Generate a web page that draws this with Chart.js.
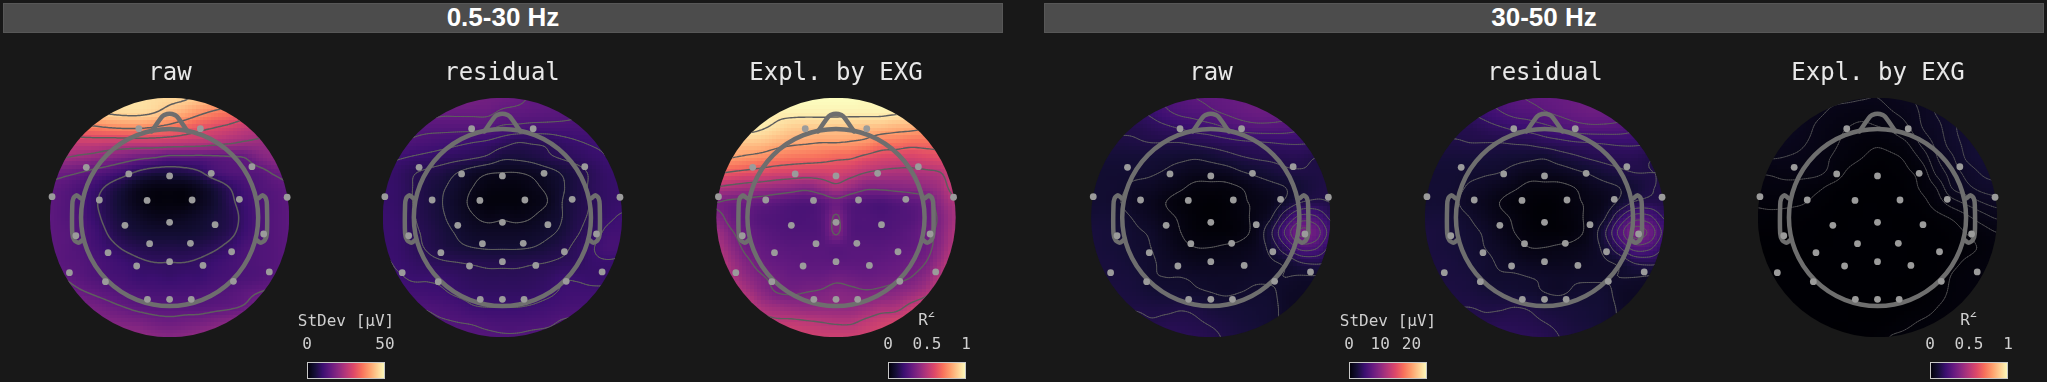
<!DOCTYPE html>
<html>
<head>
<meta charset="utf-8">
<script src="https://cdn.jsdelivr.net/npm/chart.js@4"></script>
<style>
  html, body { margin: 0; background: #181818; width: 2047px; height: 382px; overflow: hidden; }
  canvas { position: absolute; }
  .band { position: absolute; top: 3px; height: 28px; background: #4c4c4c; border: 1px solid #575757; box-sizing: content-box;
          color: #fff; font: bold 26px "Liberation Sans", sans-serif; line-height: 26px; text-align: center; }
</style>
</head>
<body>
<div class="band" style="left:3px;width:998px">0.5-30 Hz</div>
<div class="band" style="left:1044px;width:998px">30-50 Hz</div>
<script>
// sensor positions, head radius = 0.74 of the plotted disc
const sensorX = [-0.257,0.257,-0.696,-0.341,0,0.348,0.688,-0.982,-0.587,-0.188,0.188,0.583,0.982,-0.373,0,0.38,-0.783,0.786,-0.167,0.174,-0.514,0.518,-0.275,0,0.279,-0.837,0.833,-0.536,0.533,-0.185,0,0.181];
const sensorY = [0.742,0.742,0.419,0.364,0.347,0.369,0.425,0.174,0.146,0.143,0.146,0.152,0.169,-0.065,-0.04,-0.06,-0.152,-0.138,-0.219,-0.216,-0.294,-0.286,-0.405,-0.369,-0.4,-0.461,-0.455,-0.536,-0.533,-0.684,-0.684,-0.684];
const noseX = [-0.15,-0.06,-0.02,0.02,0.06,0.15];
const noseY = [0.72,0.845,0.865,0.865,0.845,0.72];
const earX = [0.743,0.776,0.804,0.813,0.813,0.796,0.762,0.726];
const earY = [0.16,0.186,0.16,0.104,-0.132,-0.188,-0.21,-0.188];

// magma colour stops (0, 0.1 ... 1)
const magma = ['#000004','#140e36','#3b0f70','#641a80','#8c2981','#b73779','#de4968','#f7705c','#fe9f6d','#fecf92','#fcfdbf'];

// field values on a 17x17 grid, rows from y=1 down to y=-1, columns x=-1 to x=1
const rawLow = [
 .94,.94,.94,.94,.94,.94,.94,.93,.92,.91,.88,.85,.82,.8,.78,.76,.74,
 .9,.9,.9,.9,.91,.92,.92,.9,.86,.82,.77,.73,.7,.66,.62,.6,.58,
 .72,.72,.72,.73,.75,.76,.76,.74,.71,.67,.63,.6,.57,.53,.5,.47,.45,
 .55,.55,.54,.54,.53,.53,.53,.53,.52,.51,.5,.48,.46,.44,.43,.42,.42,
 .46,.45,.43,.41,.38,.35,.32,.3,.27,.27,.27,.28,.29,.3,.36,.4,.4,
 .33,.32,.3,.27,.24,.2,.15,.12,.12,.13,.16,.22,.25,.26,.27,.31,.33,
 .29,.27,.24,.2,.15,.1,.05,.03,.03,.03,.06,.11,.17,.22,.25,.27,.29,
 .28,.26,.23,.18,.13,.08,.04,.02,.02,.02,.05,.09,.15,.2,.24,.26,.28,
 .28,.26,.24,.19,.14,.1,.07,.05,.05,.06,.08,.11,.14,.19,.24,.26,.28,
 .28,.27,.25,.21,.16,.12,.1,.09,.09,.09,.1,.12,.15,.2,.24,.26,.28,
 .28,.27,.25,.22,.19,.16,.14,.13,.13,.13,.14,.16,.19,.23,.25,.26,.28,
 .285,.27,.26,.24,.22,.2,.18,.17,.17,.17,.18,.2,.22,.24,.25,.26,.28,
 .31,.295,.27,.25,.23,.22,.2,.2,.19,.2,.2,.22,.23,.24,.25,.27,.29,
 .37,.34,.31,.29,.27,.25,.24,.23,.23,.23,.24,.25,.26,.28,.3,.32,.34,
 .42,.39,.36,.34,.32,.3,.28,.27,.27,.27,.27,.28,.29,.31,.35,.38,.42,
 .45,.42,.4,.38,.37,.36,.35,.33,.32,.33,.34,.36,.38,.41,.44,.46,.48,
 .5,.48,.47,.45,.44,.42,.41,.39,.38,.39,.41,.43,.45,.47,.5,.52,.54];
const residualLow = [
 .34,.34,.34,.34,.34,.34,.34,.33,.32,.31,.295,.29,.28,.28,.28,.28,.28,
 .34,.33,.33,.32,.31,.31,.31,.31,.29,.285,.28,.275,.27,.26,.25,.25,.25,
 .29,.28,.27,.265,.265,.265,.265,.26,.24,.235,.23,.23,.23,.23,.23,.23,.23,
 .25,.25,.24,.23,.22,.21,.2,.19,.17,.15,.155,.16,.18,.195,.205,.21,.22,
 .21,.205,.195,.185,.175,.165,.155,.14,.11,.11,.12,.14,.155,.17,.185,.2,.21,
 .19,.18,.155,.14,.125,.1,.075,.055,.05,.05,.06,.08,.105,.13,.16,.185,.19,
 .19,.18,.15,.125,.105,.08,.05,.03,.025,.025,.04,.06,.095,.125,.16,.18,.19,
 .19,.18,.15,.125,.1,.07,.04,.02,.02,.02,.03,.05,.1,.13,.155,.18,.19,
 .195,.185,.155,.13,.105,.08,.055,.04,.045,.04,.05,.075,.1,.135,.16,.19,.205,
 .195,.19,.16,.14,.115,.095,.075,.07,.07,.07,.075,.09,.11,.145,.175,.21,.215,
 .195,.19,.165,.145,.125,.11,.1,.095,.095,.095,.1,.115,.135,.165,.195,.225,.225,
 .205,.195,.18,.165,.155,.15,.145,.14,.14,.14,.145,.15,.16,.17,.19,.195,.19,
 .21,.205,.195,.195,.19,.175,.165,.16,.16,.16,.165,.175,.195,.195,.19,.19,.195,
 .23,.22,.215,.21,.205,.19,.18,.175,.175,.175,.18,.19,.205,.21,.21,.21,.21,
 .25,.24,.245,.245,.235,.225,.205,.2,.2,.2,.205,.215,.225,.23,.23,.23,.23,
 .27,.27,.265,.26,.255,.25,.245,.235,.23,.23,.235,.24,.255,.26,.26,.26,.26,
 .3,.3,.29,.28,.275,.27,.265,.26,.255,.255,.26,.265,.27,.275,.28,.28,.28];
const explLow = [
 1,1,1,1,1,1,1,1,1,1,.99,.99,.98,.98,.97,.97,.97,
 1,1,1,.99,.97,.97,.97,.97,.97,.97,.97,.97,.96,.95,.94,.93,.92,
 .98,.98,.98,.96,.93,.9,.89,.89,.885,.88,.87,.86,.84,.83,.81,.8,.8,
 .88,.88,.88,.87,.84,.82,.81,.8,.8,.79,.77,.72,.71,.69,.69,.69,.69,
 .8,.8,.78,.76,.73,.71,.7,.69,.67,.66,.62,.59,.58,.57,.59,.61,.62,
 .66,.64,.62,.6,.58,.57,.56,.56,.57,.54,.5,.48,.47,.47,.48,.5,.58,
 .49,.47,.45,.44,.42,.4,.38,.42,.47,.42,.37,.37,.38,.39,.41,.45,.55,
 .35,.33,.32,.3,.28,.26,.25,.27,.32,.27,.25,.24,.26,.28,.31,.4,.48,
 .38,.32,.29,.26,.25,.24,.24,.26,.36,.26,.25,.24,.25,.26,.3,.37,.46,
 .44,.36,.31,.28,.26,.25,.25,.26,.36,.26,.25,.25,.26,.28,.32,.38,.48,
 .48,.4,.33,.3,.28,.27,.27,.27,.27,.27,.27,.27,.28,.29,.32,.4,.5,
 .52,.44,.37,.32,.3,.29,.28,.28,.28,.28,.28,.29,.3,.32,.35,.44,.55,
 .57,.48,.41,.36,.33,.31,.31,.31,.33,.32,.31,.32,.33,.35,.4,.5,.6,
 .6,.54,.47,.4,.35,.34,.35,.36,.38,.37,.36,.37,.39,.42,.47,.56,.62,
 .64,.58,.54,.47,.44,.42,.41,.41,.41,.41,.43,.46,.47,.53,.58,.62,.66,
 .66,.62,.58,.54,.52,.52,.51,.5,.49,.49,.52,.55,.57,.6,.63,.65,.68,
 .68,.66,.63,.6,.58,.57,.56,.55,.55,.55,.56,.58,.6,.62,.65,.67,.7];
const rawHigh = [
 .2,.2,.2,.2,.22,.24,.26,.28,.29,.3,.31,.32,.33,.33,.32,.31,.3,
 .16,.16,.16,.17,.19,.22,.24,.25,.27,.285,.3,.31,.31,.3,.29,.28,.27,
 .14,.14,.14,.14,.155,.17,.185,.2,.21,.23,.25,.26,.26,.255,.24,.23,.22,
 .12,.12,.12,.125,.13,.13,.13,.14,.15,.16,.17,.175,.18,.185,.185,.18,.17,
 .1,.1,.1,.1,.1,.095,.09,.085,.095,.11,.125,.135,.14,.145,.145,.13,.12,
 .09,.09,.09,.09,.085,.075,.06,.05,.05,.055,.075,.09,.105,.12,.125,.125,.125,
 .09,.09,.085,.07,.065,.05,.035,.02,.02,.02,.03,.05,.065,.08,.1,.12,.13,
 .09,.09,.08,.06,.05,.03,.015,.01,.005,.01,.025,.035,.05,.09,.13,.14,.13,
 .1,.1,.09,.075,.06,.04,.025,.01,.005,.01,.02,.04,.075,.17,.25,.24,.17,
 .11,.105,.1,.085,.075,.05,.03,.015,.01,.01,.02,.045,.12,.24,.34,.31,.21,
 .11,.105,.1,.09,.08,.06,.04,.03,.03,.035,.04,.055,.095,.17,.25,.24,.17,
 .11,.11,.105,.095,.085,.07,.06,.05,.05,.05,.055,.065,.075,.09,.13,.14,.13,
 .11,.11,.11,.105,.085,.08,.08,.075,.07,.07,.07,.075,.075,.08,.075,.075,.07,
 .12,.12,.115,.11,.1,.095,.09,.085,.08,.075,.08,.085,.085,.07,.065,.065,.065,
 .13,.13,.125,.125,.12,.12,.125,.12,.105,.1,.1,.095,.09,.07,.06,.06,.06,
 .16,.155,.15,.145,.135,.14,.14,.135,.125,.115,.105,.1,.09,.075,.07,.07,.07,
 .17,.17,.17,.165,.16,.16,.155,.15,.14,.125,.115,.11,.1,.09,.08,.08,.08];
const residualHigh = [
 .21,.21,.21,.21,.23,.25,.27,.285,.295,.305,.315,.325,.335,.335,.325,.315,.305,
 .17,.17,.17,.18,.2,.225,.245,.255,.275,.29,.305,.315,.315,.305,.295,.285,.275,
 .145,.145,.145,.145,.16,.175,.19,.2,.215,.235,.255,.265,.265,.26,.245,.235,.225,
 .125,.125,.125,.13,.13,.13,.135,.14,.155,.165,.175,.18,.185,.19,.19,.185,.175,
 .105,.105,.105,.105,.105,.1,.095,.09,.085,.105,.12,.135,.145,.15,.15,.135,.125,
 .095,.095,.095,.09,.085,.08,.065,.05,.05,.055,.07,.085,.105,.12,.13,.13,.13,
 .095,.095,.09,.075,.065,.05,.035,.02,.02,.02,.03,.05,.065,.08,.1,.125,.135,
 .095,.095,.085,.065,.05,.03,.015,.01,.005,.01,.025,.035,.05,.09,.135,.145,.135,
 .105,.105,.095,.08,.06,.04,.025,.01,.005,.01,.02,.04,.075,.175,.255,.245,.175,
 .115,.11,.105,.09,.075,.05,.03,.015,.01,.01,.02,.045,.12,.245,.35,.32,.215,
 .115,.11,.105,.095,.08,.065,.045,.03,.03,.035,.04,.055,.095,.175,.255,.245,.175,
 .115,.115,.11,.1,.09,.075,.065,.055,.05,.05,.055,.065,.075,.09,.135,.145,.135,
 .115,.115,.115,.11,.09,.085,.085,.08,.075,.07,.075,.075,.075,.08,.08,.075,.07,
 .125,.125,.12,.115,.105,.1,.095,.09,.08,.075,.085,.09,.09,.07,.065,.065,.065,
 .135,.135,.13,.13,.125,.125,.13,.125,.11,.105,.105,.1,.095,.075,.06,.06,.06,
 .165,.16,.155,.15,.14,.145,.145,.14,.13,.12,.11,.105,.095,.08,.07,.07,.07,
 .175,.175,.175,.17,.165,.165,.16,.155,.145,.13,.12,.115,.105,.095,.085,.08,.08];
const explHigh = [
 .045,.045,.045,.045,.045,.043,.043,.041,.04,.045,.053,.06,.075,.08,.085,.09,.09,
 .05,.05,.05,.048,.043,.037,.032,.03,.033,.039,.046,.058,.072,.08,.09,.09,.09,
 .05,.05,.05,.047,.037,.03,.025,.022,.024,.028,.038,.055,.065,.082,.09,.095,.095,
 .05,.05,.047,.042,.034,.028,.021,.016,.013,.018,.025,.045,.06,.078,.09,.1,.1,
 .041,.041,.039,.036,.03,.024,.016,.01,.005,.007,.014,.03,.055,.068,.088,.097,.097,
 .026,.027,.03,.03,.028,.02,.008,.003,.002,.003,.008,.017,.045,.062,.075,.087,.09,
 .02,.021,.02,.018,.013,.006,.002,.001,.001,.001,.004,.013,.027,.056,.066,.076,.08,
 .012,.014,.013,.011,.006,.002,.001,.001,.001,.001,.002,.006,.018,.033,.044,.055,.062,
 .007,.006,.005,.004,.002,.001,.001,.001,.001,.001,.001,.002,.006,.012,.022,.033,.042,
 .003,.003,.002,.002,.001,.001,.001,.001,.001,.001,.001,.001,.002,.005,.011,.018,.025,
 .001,.001,.001,.001,.001,.001,.001,.001,.001,.001,.001,.001,.002,.004,.007,.012,.018,
 .001,.001,.001,.001,.001,.001,.001,.001,.001,.001,.001,.001,.002,.007,.012,.016,.02,
 .001,.001,.001,.001,.001,.001,.001,.001,.001,.001,.001,.001,.003,.011,.015,.018,.02,
 .001,.001,.001,.001,.001,.001,.001,.001,.001,.001,.001,.002,.006,.012,.015,.017,.018,
 .001,.001,.001,.001,.001,.001,.001,.001,.001,.001,.002,.005,.01,.013,.015,.016,.016,
 .001,.001,.001,.001,.001,.001,.001,.001,.001,.003,.008,.011,.013,.014,.014,.014,.014,
 .001,.001,.001,.001,.001,.001,.001,.002,.005,.011,.012,.012,.013,.013,.013,.013,.013];

// contour levels for each map
const rawLowLevels = [.17,.3,.45,.6,.75,.9];
const residualLowLevels = [.05,.1,.15,.2,.25,.3];
const explLowLevels = [.35,.5,.65,.8,.95];
const rawHighLevels = [.03,.08,.13,.18,.23,.28,.33];
const residualHighLevels = [.03,.08,.13,.18,.23,.28,.33];
const explHighLevels = [.01,.025,.04,.055,.07,.085];

const mapTitles = ['raw','residual','Expl. by EXG','raw','residual','Expl. by EXG'];
const mapGrids = [rawLow,residualLow,explLow,rawHigh,residualHigh,explHigh];
const mapLevels = [rawLowLevels,residualLowLevels,explLowLevels,rawHighLevels,residualHighLevels,explHighLevels];
const contourWidths = [1.5,1,1.4,0.8,0.8,0.6];
const mapCentres = [169.6,502.4,836,1210.8,1544.5,1877.5];

const unitPx = 119.7;   // pixels per unit of the disc
const gridSize = 17;
const mono = 'DejaVu Sans Mono';

function hexRgb(h) {
  return [parseInt(h.slice(1,3),16),parseInt(h.slice(3,5),16),parseInt(h.slice(5,7),16)];
}
const magmaRgb = magma.map(hexRgb);
function colourOf(v) {
  const t = Math.min(Math.max(v,0),1)*(magmaRgb.length-1);
  const i = Math.min(Math.floor(t),magmaRgb.length-2);
  const f = t-i;
  const a = magmaRgb[i], b = magmaRgb[i+1];
  return 'rgb('+Math.round(a[0]+(b[0]-a[0])*f)+','+Math.round(a[1]+(b[1]-a[1])*f)+','+Math.round(a[2]+(b[2]-a[2])*f)+')';
}

function cubic(p0,p1,p2,p3,t) {
  return p1+0.5*t*(p2-p0+t*(2*p0-5*p1+4*p2-p3+t*(3*(p1-p2)+p3-p0)));
}
// smooth shading between the grid nodes, for the painted surface only
function shade(vals,x,y) {
  const gx = (x+1)/2*(gridSize-1), gy = (1-y)/2*(gridSize-1);
  const ix = Math.min(Math.floor(gx),gridSize-2), iy = Math.min(Math.floor(gy),gridSize-2);
  const at = (c,r) => vals[Math.min(Math.max(r,0),gridSize-1)*gridSize+Math.min(Math.max(c,0),gridSize-1)];
  const row = r => cubic(at(ix-1,r),at(ix,r),at(ix+1,r),at(ix+2,r),gx-ix);
  return Math.max(0,cubic(row(iy-1),row(iy),row(iy+1),row(iy+2),gy-iy));
}

const topoPlugin = {
  id: 'topo',
  beforeDatasetsDraw(chart) {
    const ctx = chart.ctx, sx = chart.scales.x, sy = chart.scales.y;
    const cfg = chart.options.plugins.topo;
    const pts = chart.data.datasets[cfg.fieldIndex].data;
    const vals = pts.map(p => p.v);
    const cx = sx.getPixelForValue(0), cy = sy.getPixelForValue(0);
    const r = sx.getPixelForValue(1)-cx;

    ctx.save();
    ctx.beginPath();
    ctx.arc(cx,cy,r,0,Math.PI*2);
    ctx.clip();

    // image cells, 64 per side
    const n = 64;
    for (let j = 0; j < n; j++) {
      for (let i = 0; i < n; i++) {
        const x0 = -1+2*i/n, x1 = -1+2*(i+1)/n, y0 = 1-2*j/n, y1 = 1-2*(j+1)/n;
        const px0 = Math.round(sx.getPixelForValue(x0)), px1 = Math.round(sx.getPixelForValue(x1));
        const py0 = Math.round(sy.getPixelForValue(y0)), py1 = Math.round(sy.getPixelForValue(y1));
        ctx.fillStyle = colourOf(shade(vals,(x0+x1)/2,(y0+y1)/2));
        ctx.fillRect(px0,py0,px1-px0,py1-py0);
      }
    }

    // contour lines by marching squares
    const m = 128, f = [];
    for (let j = 0; j <= m; j++) {
      f.push([]);
      for (let i = 0; i <= m; i++) f[j].push(shade(vals,-1+2*i/m,1-2*j/m));
    }
    ctx.strokeStyle = '#5e5e5e';
    ctx.lineWidth = cfg.lineWidth;
    ctx.lineCap = 'round';
    ctx.beginPath();
    cfg.levels.forEach(lv => {
      for (let j = 0; j < m; j++) {
        for (let i = 0; i < m; i++) {
          const a = f[j][i], b = f[j][i+1], c = f[j+1][i+1], d = f[j+1][i];
          const hits = [];
          if ((a<lv)!==(b<lv)) hits.push([i+(lv-a)/(b-a),j]);
          if ((b<lv)!==(c<lv)) hits.push([i+1,j+(lv-b)/(c-b)]);
          if ((d<lv)!==(c<lv)) hits.push([i+(lv-d)/(c-d),j+1]);
          if ((a<lv)!==(d<lv)) hits.push([i,j+(lv-a)/(d-a)]);
          for (let k = 0; k+1 < hits.length; k += 2) {
            ctx.moveTo(sx.getPixelForValue(-1+2*hits[k][0]/m),sy.getPixelForValue(1-2*hits[k][1]/m));
            ctx.lineTo(sx.getPixelForValue(-1+2*hits[k+1][0]/m),sy.getPixelForValue(1-2*hits[k+1][1]/m));
          }
        }
      }
    });
    ctx.stroke();
    ctx.restore();

    // head circle
    ctx.save();
    ctx.strokeStyle = '#6e6e6e';
    ctx.lineWidth = 4.5;
    ctx.beginPath();
    ctx.arc(cx,cy,r*0.74,0,Math.PI*2);
    ctx.stroke();
    ctx.restore();
  }
};

function outline(xs,ys,sign) {
  return {
    data: xs.map((x,i) => ({x: x*sign, y: ys[i]})),
    showLine: true, pointRadius: 0, borderColor: '#6e6e6e', borderWidth: 4.5,
    borderJoinStyle: 'round', borderCapStyle: 'round', tension: 0.25, clip: false
  };
}

mapTitles.forEach((title,idx) => {
  const canvas = document.createElement('canvas');
  const areaSize = 252, titleBlock = 33;
  canvas.width = areaSize;
  canvas.height = areaSize+titleBlock;
  canvas.style.left = Math.round(mapCentres[idx]-areaSize/2)+'px';
  canvas.style.top = '59px';
  document.body.appendChild(canvas);

  const field = [];
  mapGrids[idx].forEach((v,k) => {
    field.push({x: -1+2*(k%gridSize)/(gridSize-1), y: 1-2*Math.floor(k/gridSize)/(gridSize-1), v: v});
  });
  const half = areaSize/2/unitPx;
  const left = canvas.offsetLeft;
  const shiftX = (left+areaSize/2-mapCentres[idx])/unitPx;

  new Chart(canvas, {
    type: 'scatter',
    data: { datasets: [
      { data: sensorX.map((x,i) => ({x: x, y: sensorY[i]})), pointRadius: 3.4, pointBackgroundColor: '#9b9b9b', pointBorderWidth: 0, clip: false },
      outline(noseX,noseY,1),
      outline(earX,earY,1),
      outline(earX,earY,-1),
      { data: field, pointRadius: 0 }
    ]},
    options: {
      responsive: false,
      animation: false,
      events: [],
      layout: { padding: 0, autoPadding: false },
      scales: {
        x: { display: false, min: shiftX-half, max: shiftX+half },
        y: { display: false, min: -(half+0.5/unitPx), max: half-0.5/unitPx }
      },
      plugins: {
        legend: { display: false },
        tooltip: { enabled: false },
        title: { display: true, text: title, color: '#e8e8e8', font: { family: mono, size: 24, weight: 'normal' }, padding: { top: 0, bottom: 4.2 } },
        topo: { fieldIndex: 4, levels: mapLevels[idx], lineWidth: contourWidths[idx] }
      }
    },
    plugins: [topoPlugin]
  });
});

// colour bars
const stdevLowTicks = [0,50];
const r2Ticks = [0,0.5,1];
const stdevHighTicks = [0,10,20];
const barLefts = [307,888,1349,1930];
const barMax = [50,1,25,1];
const barTicks = [stdevLowTicks,r2Ticks,stdevHighTicks,r2Ticks];
const barTitles = ['StDev [μV]','R','StDev [μV]','R'];

const barPlugin = {
  id: 'bar',
  beforeDatasetsDraw(chart) {
    const ctx = chart.ctx, a = chart.chartArea;
    const g = ctx.createLinearGradient(a.left,0,a.right,0);
    magma.forEach((c,i) => g.addColorStop(i/(magma.length-1),c));
    ctx.save();
    ctx.fillStyle = g;
    ctx.fillRect(a.left,a.top,a.right-a.left,a.bottom-a.top);
    ctx.strokeStyle = '#c8c8c8';
    ctx.lineWidth = 1;
    ctx.strokeRect(a.left+0.5,a.top+0.5,a.right-a.left-1,a.bottom-a.top-1);

    // bar caption, drawn here so the scale does not squeeze it to the bar width
    const cfg = chart.options.plugins.bar;
    const mid = (a.left+a.right)/2;
    ctx.fillStyle = '#cfcfcf';
    ctx.textAlign = 'center';
    ctx.textBaseline = 'middle';
    ctx.font = '16px "' + mono + '"';
    if (cfg.sup) {
      ctx.fillText(cfg.caption,mid-4,a.top-41);
      ctx.font = '12.5px "' + mono + '"';
      ctx.fillText(cfg.sup,mid+4.5,a.top-48);
    } else {
      ctx.fillText(cfg.caption,mid,a.top-40);
    }
    ctx.restore();
  }
};

barLefts.forEach((left,idx) => {
  const canvas = document.createElement('canvas');
  const padX = 24;
  canvas.width = 78+padX*2;
  canvas.height = 70;
  canvas.style.left = (left-padX)+'px';
  canvas.style.top = '312px';
  document.body.appendChild(canvas);
  const isR = barTitles[idx] === 'R';
  new Chart(canvas, {
    type: 'scatter',
    data: { datasets: [{ data: [], pointRadius: 0 }] },
    options: {
      responsive: false,
      animation: false,
      events: [],
      layout: { padding: { left: padX, right: padX, top: 0, bottom: 3 }, autoPadding: false },
      scales: {
        x: {
          position: 'top', min: 0, max: barMax[idx],
          afterBuildTicks: axis => { axis.ticks = barTicks[idx].map(v => ({value: v})); },
          afterFit: axis => { axis.height = 50; },
          ticks: { color: '#cfcfcf', font: { family: mono, size: 16 }, padding: 0, maxRotation: 0, autoSkip: false, callback: v => String(v) },
          grid: { display: false },
          border: { display: false }
        },
        y: { display: false }
      },
      plugins: {
        legend: { display: false },
        tooltip: { enabled: false },
        bar: { caption: barTitles[idx], sup: isR ? '2' : '' }
      }
    },
    plugins: [barPlugin]
  });
});
</script>
</body>
</html>
